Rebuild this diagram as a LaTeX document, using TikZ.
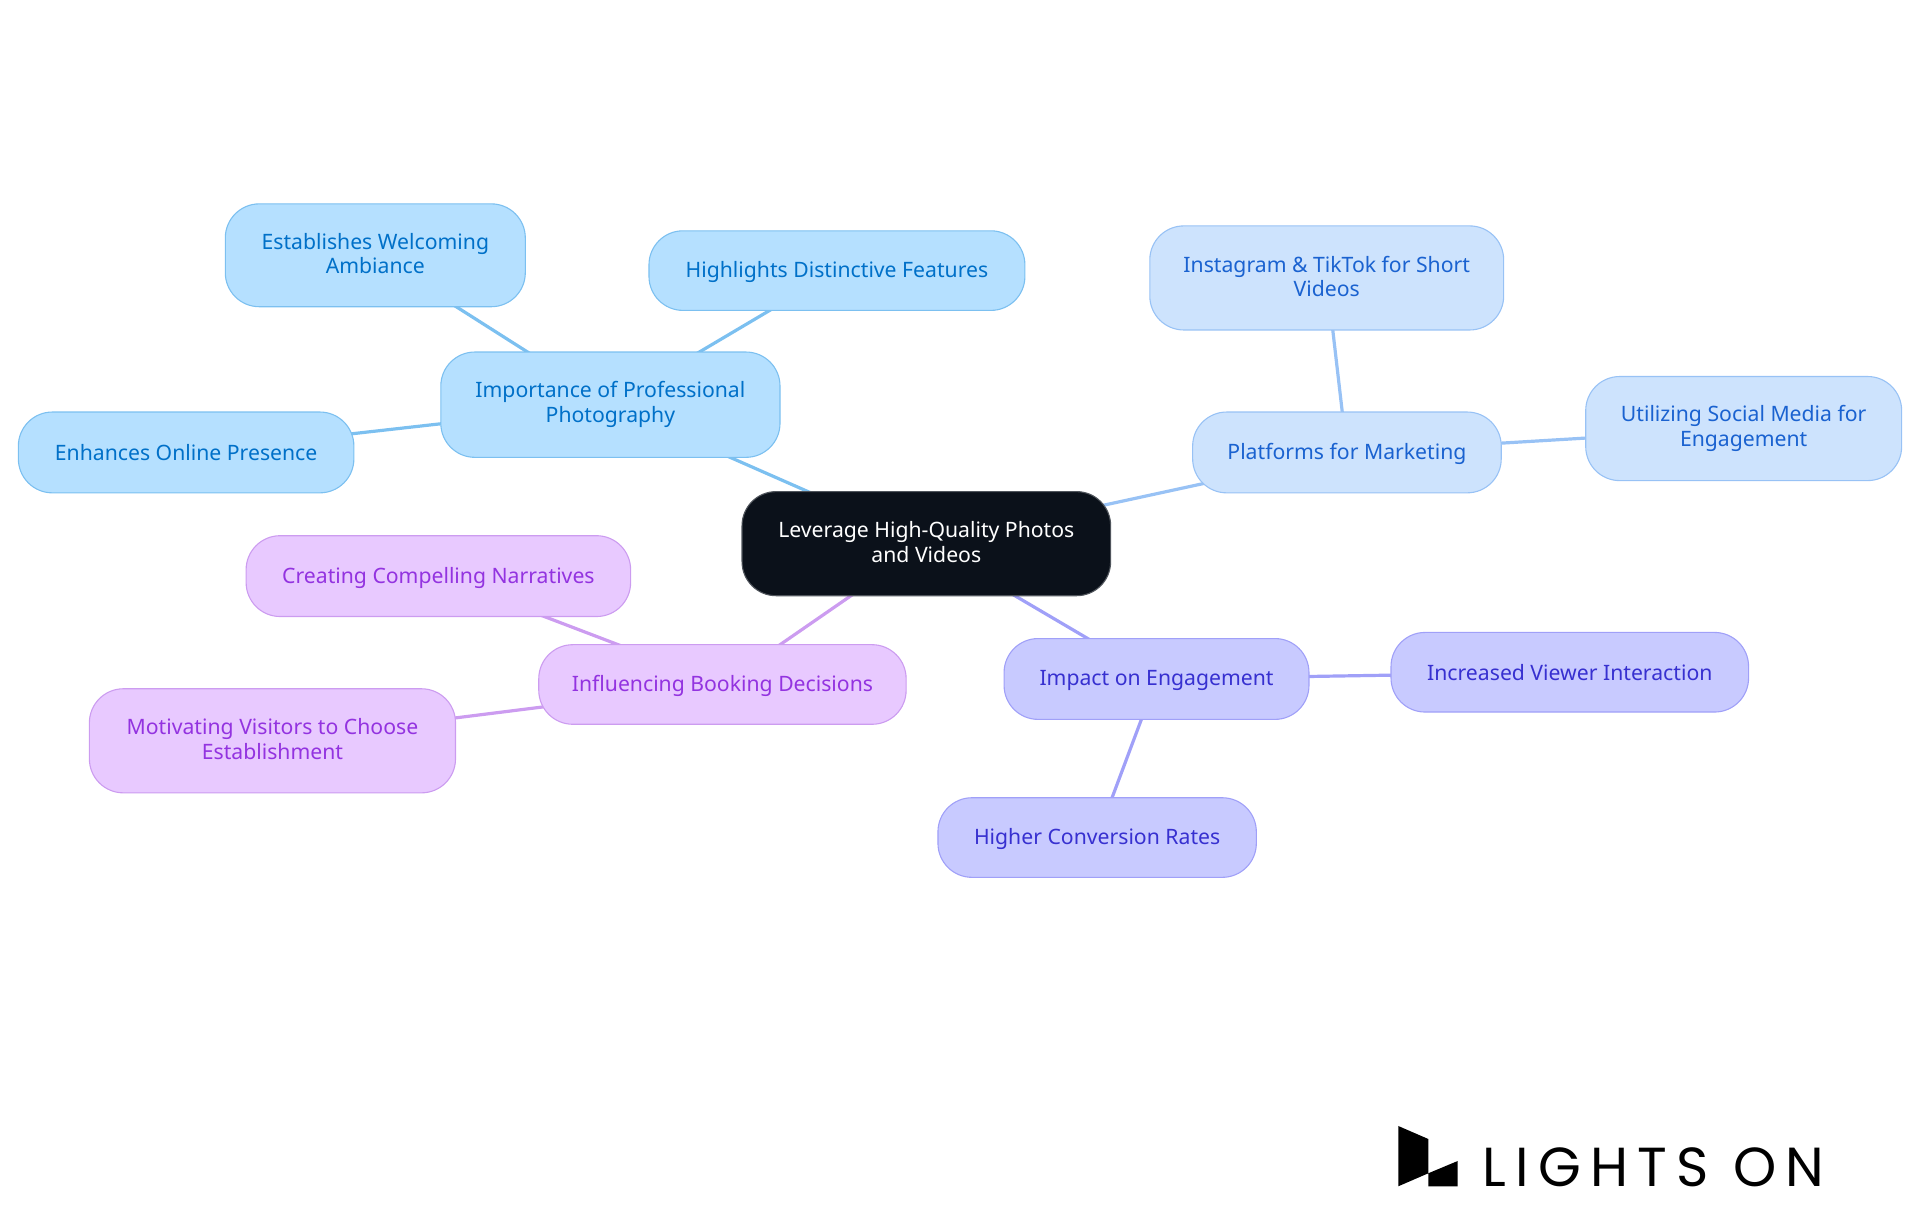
\documentclass[tikz,border=0pt]{standalone}
\usepackage{fontspec}
\setmainfont{Noto Sans}
\newfontfamily\logofont[LetterSpace=17]{Poppins}
\usetikzlibrary{backgrounds}
\definecolor{centerfill}{HTML}{0B111A}
\definecolor{centerline}{HTML}{50555C}
\definecolor{skyfill}{HTML}{B5E0FF}
\definecolor{skyline}{HTML}{7CC0F0}
\definecolor{skytext}{HTML}{0070C8}
\definecolor{bluefill}{HTML}{CDE3FD}
\definecolor{blueline}{HTML}{98C2F5}
\definecolor{bluetext}{HTML}{1A62D0}
\definecolor{indigofill}{HTML}{C8CAFF}
\definecolor{indigoline}{HTML}{A0A0F8}
\definecolor{indigotext}{HTML}{3730D0}
\definecolor{purplefill}{HTML}{E8C9FF}
\definecolor{purpleline}{HTML}{CC9CF0}
\definecolor{purpletext}{HTML}{9333E0}
\newcommand{\mapstrut}{\rule[-3.4pt]{0pt}{22.4pt}}
\tikzset{
  mapnode/.style={rectangle,rounded corners=34pt,align=center,line width=1.1pt,inner sep=0pt,
    font=\fontsize{21.2}{24.5}\selectfont,yshift=-0.6pt,
    execute at begin node=\mapstrut,execute at end node=\mapstrut},
  sz/.style 2 args={minimum width={#1*1.2245pt},minimum height={#2*1.2245pt}},
  rootnode/.style={mapnode,fill=centerfill,draw=centerline,text=white},
  skynode/.style={mapnode,fill=skyfill,draw=skyline,text=skytext},
  bluenode/.style={mapnode,fill=bluefill,draw=blueline,text=bluetext},
  indigonode/.style={mapnode,fill=indigofill,draw=indigoline,text=indigotext},
  purplenode/.style={mapnode,fill=purplefill,draw=purpleline,text=purpletext},
  edge/.style={line width=3.2pt},
}
\begin{document}
\begin{tikzpicture}[x=1.2245pt,y=-1.2245pt]
\useasboundingbox (0,0) rectangle (1568,992.25);
\node[rootnode,sz={301}{85}] (root) at (756.5,443.5) {Leverage High-Quality Photos\\and Videos};
\node[skynode,sz={277}{86}] (imp) at (498.5,330) {Importance of Professional\\Photography};
\node[skynode,sz={245}{84}] (est) at (306.5,208) {Establishes Welcoming\\Ambiance};
\node[skynode,sz={307}{65}] (hig) at (683.5,220.5) {Highlights Distinctive Features};
\node[skynode,sz={274}{66}] (enh) at (152,369) {Enhances Online Presence};
\node[bluenode,sz={252}{66}] (pla) at (1100,369) {Platforms for Marketing};
\node[bluenode,sz={289}{85}] (ins) at (1083.5,226.5) {Instagram \& TikTok for Short\\Videos};
\node[bluenode,sz={258}{85}] (uti) at (1424,349.5) {Utilizing Social Media for\\Engagement};
\node[indigonode,sz={249}{66}] (eng) at (944.5,554) {Impact on Engagement};
\node[indigonode,sz={292}{65}] (inc) at (1282,548.5) {Increased Viewer Interaction};
\node[indigonode,sz={260}{65}] (con) at (896,683.5) {Higher Conversion Rates};
\node[purplenode,sz={300}{65}] (inf) at (590,558.5) {Influencing Booking Decisions};
\node[purplenode,sz={314}{66}] (cre) at (358,470) {Creating Compelling Narratives};
\node[purplenode,sz={299}{85}] (mot) at (222.5,604.5) {Motivating Visitors to Choose\\Establishment};
\begin{scope}[on background layer]
\draw[edge,skyline] (root.center) -- (imp.center);
\draw[edge,skyline] (imp.center) -- (est.center);
\draw[edge,skyline] (imp.center) -- (hig.center);
\draw[edge,skyline] (imp.center) -- (enh.center);
\draw[edge,blueline] (root.center) -- (pla.center);
\draw[edge,blueline] (pla.center) -- (ins.center);
\draw[edge,blueline] (pla.center) -- (uti.center);
\draw[edge,indigoline] (root.center) -- (eng.center);
\draw[edge,indigoline] (eng.center) -- (inc.center);
\draw[edge,indigoline] (eng.center) -- (con.center);
\draw[edge,purpleline] (root.center) -- (inf.center);
\draw[edge,purpleline] (inf.center) -- (cre.center);
\draw[edge,purpleline] (inf.center) -- (mot.center);
\end{scope}
\begin{scope}[x=1pt,y=-1pt]
\fill[black] (1398.3,1126) -- (1428.3,1139) -- (1428.3,1173.3) -- (1457.7,1161) -- (1457.7,1186.3) -- (1428.3,1186.3) -- (1428.3,1173.3) -- (1398.3,1186.3) -- cycle;
\node[anchor=base west,inner sep=0pt,font=\logofont\fontsize{55}{55}\selectfont] (logo) at (1482,1186.5) {LIGHTS ON};
\end{scope}
\end{tikzpicture}
\end{document}
